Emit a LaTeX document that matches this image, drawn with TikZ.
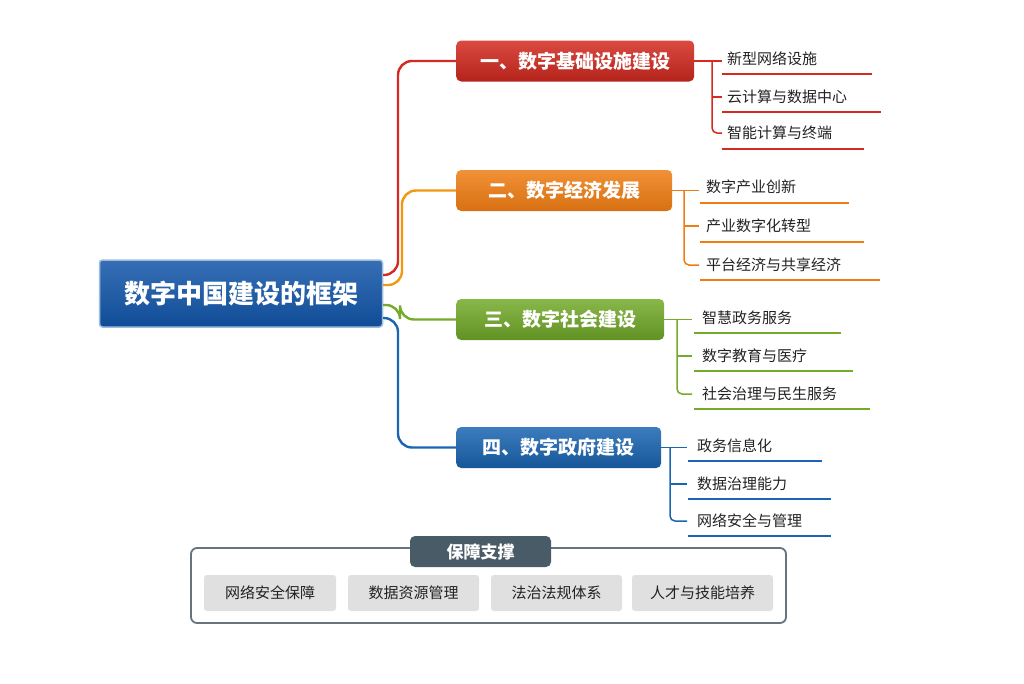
\documentclass[tikz,border=0pt]{standalone}
\usepackage{fontspec}
\newfontfamily\cjk{Noto Sans CJK SC}
\definecolor{cred}{HTML}{D42A20}
\definecolor{cora}{HTML}{EF7D14}
\definecolor{cgrn}{HTML}{74AB2A}
\definecolor{cblu}{HTML}{1A66B3}
\definecolor{cmain}{HTML}{1255A8}
\definecolor{slate}{HTML}{4A5B68}
\definecolor{txt}{HTML}{222222}
\begin{document}
\begin{tikzpicture}[x=1pt,y=-1pt,
 branch/.style={rounded corners=5pt,minimum height=41pt,text=white,anchor=west,inner xsep=14pt,
   font=\cjk\fontsize{19}{22}\selectfont\bfseries},
 leaf/.style={anchor=west,inner sep=0pt,text=txt,font=\cjk\fontsize{15}{18}\selectfont},
 conn/.style={line width=2.4pt,rounded corners=14pt},
 sub/.style={line width=1.5pt},
 res/.style={fill=black!12,rounded corners=3pt,minimum height=36pt,font=\cjk\fontsize{15}{18}\selectfont,text=txt}]
\useasboundingbox (0,0) rectangle (1024,683);
% central
\node[draw=cmain!40,line width=1.5pt,top color=cmain!85!white,bottom color=cmain!90!black,rounded corners=3pt,
  minimum width=283pt,minimum height=67pt,text=white,font=\cjk\fontsize{26}{30}\selectfont\bfseries] (c) at (241,293.5) {数字中国建设的框架};
% branches
\node[branch,minimum width=238pt,top color=cred!85!white,bottom color=cred!85!black] (b1) at (456,61) {一、数字基础设施建设};
\node[branch,minimum width=216pt,top color=cora!85!white,bottom color=cora!90!black] (b2) at (456,190.5) {二、数字经济发展};
\node[branch,minimum width=208pt,top color=cgrn!85!white,bottom color=cgrn!85!black] (b3) at (456,319.5) {三、数字社会建设};
\node[branch,minimum width=205pt,top color=cblu!85!white,bottom color=cblu!85!black] (b4) at (456,447.5) {四、数字政府建设};
\coordinate (r1) at (383,275);\coordinate (r2) at (383,285);\coordinate (r3) at (383,305);\coordinate (r4) at (383,318);
\draw[conn,cred] (r1) -- (398,275) -- (398,61) -- (b1.west);
\draw[conn,cora!80!yellow] (r2) -- (402,285) -- (402,190.5) -- (b2.west);
\draw[conn,cgrn] (r3) -- (400,305) -- (400,319.5) -- (b3.west);
\draw[conn,cblu] (r4) -- (398,318) -- (398,447.5) -- (b4.west);
% leaves group 1
\node[leaf] (l11) at (727,59) {新型网络设施};
\node[leaf] (l12) at (727,97) {云计算与数据中心};
\node[leaf] (l13) at (727,133) {智能计算与终端};
\draw[sub,cred] (b1.east) -- (722,61);
\draw[sub,cred,rounded corners=5pt] (712,61) -- (712,133) -- (722,133);
\draw[sub,cred] (712,97) -- (722,97);
\draw[cred,line width=1.2pt] (722,74) -- (872,74) (722,112) -- (881,112) (722,149) -- (864,149);
% group 2
\node[leaf] (l21) at (706,187) {数字产业创新};
\node[leaf] (l22) at (706,226) {产业数字化转型};
\node[leaf] (l23) at (706,265) {平台经济与共享经济};
\draw[sub,cora] (b2.east) -- (699,190.5);
\draw[sub,cora,rounded corners=5pt] (684,190.5) -- (684,265) -- (699,265);
\draw[sub,cora] (684,226) -- (699,226);
\draw[cora,line width=1.2pt] (700,203) -- (849,203) (700,242) -- (864,242) (700,280) -- (880,280);
% group 3
\node[leaf] (l31) at (702,318) {智慧政务服务};
\node[leaf] (l32) at (702,356) {数字教育与医疗};
\node[leaf] (l33) at (702,394) {社会治理与民生服务};
\draw[sub,cgrn] (b3.east) -- (692,319.5);
\draw[sub,cgrn,rounded corners=5pt] (677,319.5) -- (677,394) -- (692,394);
\draw[sub,cgrn] (677,356) -- (692,356);
\draw[cgrn,line width=1.2pt] (694,333) -- (841,333) (694,371) -- (853,371) (694,409) -- (870,409);
% group 4
\node[leaf] (l41) at (697,446) {政务信息化};
\node[leaf] (l42) at (697,484) {数据治理能力};
\node[leaf] (l43) at (697,521) {网络安全与管理};
\draw[sub,cblu] (b4.east) -- (687,447.5);
\draw[sub,cblu,rounded corners=5pt] (670,447.5) -- (670,521) -- (687,521);
\draw[sub,cblu] (670,484) -- (687,484);
\draw[cblu,line width=1.2pt] (688,461) -- (822,461) (688,499) -- (831,499) (688,536) -- (831,536);
% bottom
\node[draw=slate!85,line width=1.8pt,fill=white,rounded corners=6pt,minimum width=595pt,minimum height=75pt] (sup) at (488.5,585.5) {};
\node[fill=slate,rounded corners=5pt,minimum width=141pt,minimum height=31pt,text=white,
  font=\cjk\fontsize{17}{20}\selectfont\bfseries] (st) at (480.5,551.5) {保障支撑};
\node[res,minimum width=132pt] (s1) at (270,593) {网络安全保障};
\node[res,minimum width=131pt] (s2) at (413.5,593) {数据资源管理};
\node[res,minimum width=131pt] (s3) at (556.5,593) {法治法规体系};
\node[res,minimum width=141pt] (s4) at (702.5,593) {人才与技能培养};
\end{tikzpicture}
\end{document}
